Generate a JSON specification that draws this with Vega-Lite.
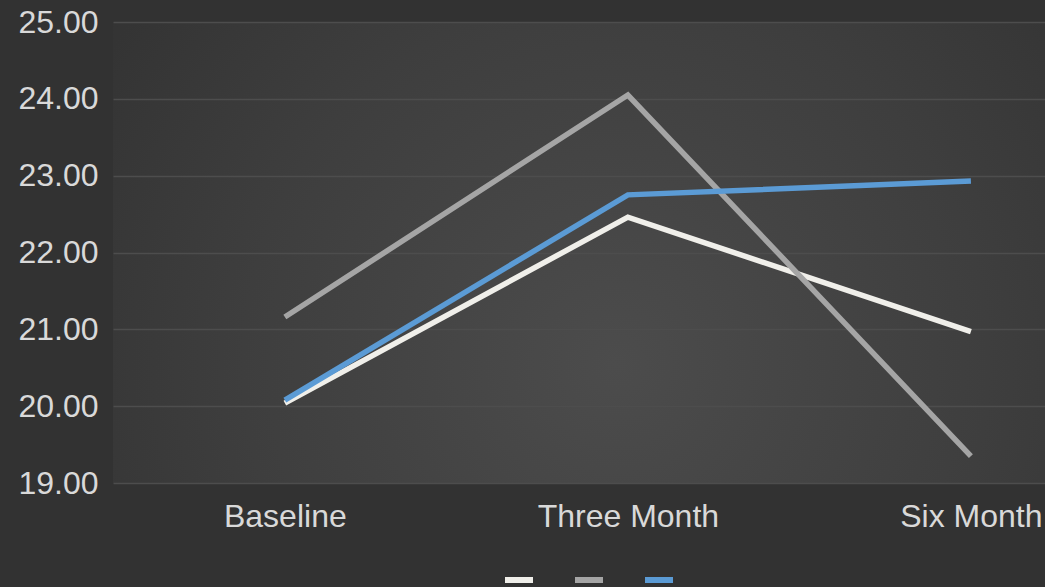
{
  "$schema": "https://vega.github.io/schema/vega-lite/v6.json",
  "width": 932,
  "height": 461,
  "autosize": {"type": "none"},
  "padding": {"left": 113, "top": 22, "right": 0, "bottom": 104},
  "background": "#323232",
  "view": {
    "stroke": null,
    "fill": {
      "gradient": "radial",
      "x1": 0.54, "y1": 0.62, "r1": 0,
      "x2": 0.54, "y2": 0.62, "r2": 0.8,
      "stops": [
        {"offset": 0, "color": "#4c4c4c"},
        {"offset": 0.5, "color": "#3e3e3e"},
        {"offset": 0.8, "color": "#343434"},
        {"offset": 1, "color": "#323232"}
      ]
    }
  },
  "data": {
    "values": [
      {"step": 0, "period": "Baseline", "series": "A", "score": 20.04},
      {"step": 1, "period": "Three Month", "series": "A", "score": 22.46},
      {"step": 2, "period": "Six Month", "series": "A", "score": 20.97},
      {"step": 0, "period": "Baseline", "series": "B", "score": 21.16},
      {"step": 1, "period": "Three Month", "series": "B", "score": 24.05},
      {"step": 2, "period": "Six Month", "series": "B", "score": 19.35},
      {"step": 0, "period": "Baseline", "series": "C", "score": 20.08},
      {"step": 1, "period": "Three Month", "series": "C", "score": 22.75},
      {"step": 2, "period": "Six Month", "series": "C", "score": 22.93}
    ]
  },
  "mark": {"type": "line", "strokeWidth": 5.5, "strokeCap": "butt", "strokeJoin": "miter"},
  "encoding": {
    "x": {
      "field": "step",
      "type": "quantitative",
      "scale": {"domain": [-0.501, 2.216], "nice": false, "zero": false},
      "axis": {
        "title": null,
        "values": [0, 1, 2],
        "labelExpr": "['Baseline', 'Three Month', 'Six Month'][datum.value]",
        "domain": false,
        "ticks": false,
        "grid": false,
        "labelAngle": 0,
        "labelFlush": false,
        "labelOverlap": false,
        "labelLimit": 0,
        "labelDx": -5,
        "labelFont": "Liberation Sans",
        "labelFontSize": 32,
        "labelColor": "#d9d9d9",
        "labelPadding": 18
      }
    },
    "y": {
      "field": "score",
      "type": "quantitative",
      "scale": {"domain": [19, 25], "zero": false, "nice": false},
      "axis": {
        "title": null,
        "values": [19, 20, 21, 22, 23, 24, 25],
        "format": ".2f",
        "domain": false,
        "ticks": false,
        "grid": true,
        "gridColor": "#4d4d4d",
        "gridWidth": 1.5,
        "labelFont": "Liberation Sans",
        "labelFontSize": 32,
        "labelColor": "#d9d9d9",
        "labelPadding": 15,
        "labelFlush": false
      }
    },
    "color": {
      "field": "series",
      "type": "nominal",
      "scale": {"domain": ["A", "B", "C"], "range": ["#f0efea", "#a5a5a5", "#5b9bd5"]},
      "legend": {
        "orient": "none",
        "direction": "horizontal",
        "legendX": 389,
        "legendY": 541,
        "title": null,
        "labelExpr": "''",
        "symbolType": "stroke",
        "symbolSize": 784,
        "symbolStrokeWidth": 6,
        "labelOffset": 0,
        "columnPadding": 18,
        "padding": 0
      }
    }
  }
}
